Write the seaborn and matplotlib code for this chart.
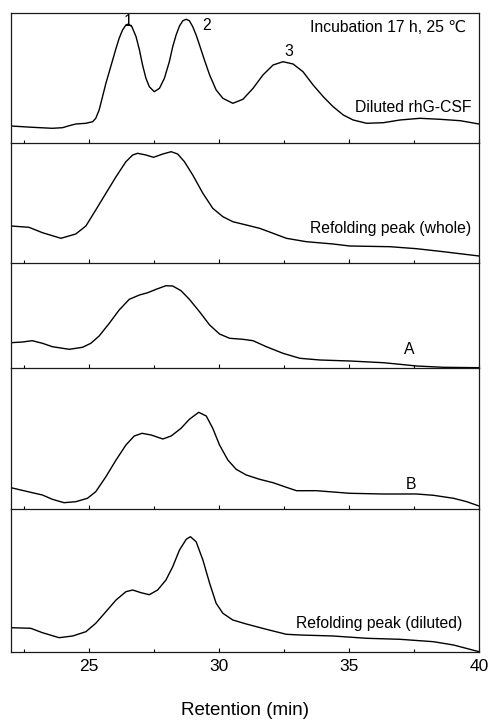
import matplotlib
matplotlib.use("Agg")
import matplotlib.pyplot as plt
import seaborn as sns
from matplotlib.ticker import MultipleLocator

# ---- data (retention in min, signal in arbitrary units) ----
x1 = [22.0, 22.82, 23.59, 23.98, 24.24, 24.49, 24.88, 25.14, 25.26, 25.39, 25.52, 25.65, 25.78, 25.91, 26.04, 26.16,
      26.29, 26.42, 26.52, 26.65, 26.81, 26.94, 27.06, 27.19, 27.32, 27.51, 27.71, 27.90, 28.09, 28.22, 28.35, 28.48,
      28.61, 28.74, 28.86, 28.99, 29.12, 29.25, 29.44, 29.64, 29.89, 30.15, 30.53, 30.92, 31.31, 31.69, 32.08, 32.46,
      32.85, 33.23, 33.62, 34.01, 34.39, 34.78, 35.16, 35.68, 36.32, 36.96, 37.73, 38.50, 39.28, 40.0]
y1 = [16.7, 15.4, 14.4, 15.0, 17.0, 18.7, 19.4, 21.0, 24.4, 32.7, 46.0, 59.4, 71.0, 82.7, 94.4, 104.4,
      112.7, 117.7, 118.7, 116.0, 106.0, 92.7, 77.7, 64.4, 56.0, 51.0, 54.4, 64.4, 81.0, 96.0, 107.7, 116.7,
      122.0, 123.4, 122.0, 116.0, 107.7, 97.7, 82.7, 67.7, 52.7, 44.4, 39.4, 43.4, 54.4, 67.7, 77.7, 81.0,
      78.7, 71.0, 57.7, 46.0, 36.0, 27.7, 22.7, 19.4, 20.0, 22.7, 24.4, 23.4, 22.0, 18.7]

x2 = [22.0, 22.69, 23.21, 23.92, 24.49, 24.88, 25.26, 25.65, 26.04, 26.42, 26.68, 26.87, 27.19, 27.48, 27.84, 28.16,
      28.41, 28.67, 28.99, 29.38, 29.76, 30.15, 30.53, 31.05, 31.56, 32.08, 32.59, 33.36, 34.39, 35.03, 36.58, 37.60,
      38.63, 40.0]
y2 = [36.7, 35.4, 30.0, 24.4, 28.7, 36.7, 52.7, 69.4, 86.0, 101.0, 107.7, 109.4, 107.7, 105.4, 108.7, 111.0,
      108.7, 101.0, 87.7, 69.4, 54.4, 46.0, 41.0, 37.7, 34.4, 29.4, 24.4, 21.0, 18.7, 16.7, 16.0, 14.0,
      11.0, 6.7]

x3 = [22.0, 22.44, 22.82, 23.21, 23.59, 24.24, 24.75, 25.07, 25.39, 25.78, 26.16, 26.55, 26.94, 27.26, 27.58, 27.96,
      28.22, 28.54, 28.86, 29.25, 29.64, 30.02, 30.41, 30.92, 31.31, 31.82, 32.46, 33.11, 33.88, 35.03, 36.32, 36.96,
      37.60, 38.63, 40.0]
y3 = [25.0, 25.7, 27.0, 24.4, 21.0, 18.4, 20.4, 24.4, 31.7, 44.4, 57.7, 68.4, 72.7, 75.0, 78.4, 82.0,
      81.7, 77.0, 68.4, 56.0, 42.7, 33.7, 29.4, 28.4, 27.0, 21.0, 14.4, 9.4, 7.7, 6.7, 5.0, 3.4,
      1.7, 0.4, 0.0]

x4 = [22.0, 22.82, 23.21, 23.59, 24.04, 24.49, 24.94, 25.26, 25.65, 26.04, 26.42, 26.74, 27.04, 27.39, 27.84, 28.16,
      28.54, 28.86, 29.22, 29.51, 29.76, 30.02, 30.34, 30.66, 31.05, 31.56, 32.08, 32.59, 32.98, 33.75, 34.39, 35.03,
      36.32, 37.60, 38.25, 39.02, 39.53, 40.0]
y4 = [21.3, 16.3, 14.0, 9.7, 6.3, 7.3, 10.7, 17.3, 32.3, 49.0, 64.0, 73.0, 75.7, 74.0, 70.0, 73.0,
      80.7, 89.7, 96.7, 93.0, 80.7, 64.0, 49.0, 39.7, 34.0, 29.7, 26.3, 21.7, 18.3, 18.3, 17.0, 15.7,
      15.0, 15.0, 13.7, 10.7, 7.3, 3.0]

x5 = [22.0, 22.76, 23.21, 23.85, 24.37, 24.88, 25.26, 25.65, 26.04, 26.42, 26.68, 27.0, 27.32, 27.64, 27.96, 28.22,
      28.48, 28.74, 28.90, 29.12, 29.38, 29.64, 29.89, 30.15, 30.53, 31.05, 31.82, 32.59, 33.11, 34.39, 35.68, 36.96,
      38.25, 39.02, 40.0]
y5 = [24.3, 23.7, 19.3, 14.3, 16.0, 20.3, 28.7, 40.3, 52.0, 60.3, 62.0, 59.3, 57.3, 62.0, 72.0, 85.3,
      102.0, 112.7, 115.3, 110.3, 92.0, 68.7, 48.7, 38.7, 32.0, 28.0, 22.7, 17.7, 17.0, 16.0, 13.7, 12.7,
      10.3, 7.0, 0.3]

series_x = [x1, x2, x3, x4, x5]
series_y = [y1, y2, y3, y4, y5]
panel_labels = ["Diluted rhG-CSF", "Refolding peak (whole)", "A", "B", "Refolding peak (diluted)"]
peak_numbers = ["1", "2", "3"]
peak_positions = [26.5, 29.52, 32.7]
peak_heights = [120.7, 117.7, 91.7]
condition_text = "Incubation 17 h, 25 \u2103"
x_ticks = [25, 30, 35, 40]
x_label = "Retention (min)"

# ---- layout ----
sns.set_style("white")
plt.rcParams["font.family"] = ["Liberation Sans", "DejaVu Sans"]

fig = plt.figure(figsize=(4.88, 7.2), dpi=100)
W, H = 488.0, 720.0
left_px, right_px = 11.0, 479.0
bounds_px = [(13.0, 142.7), (142.7, 262.7), (262.7, 367.7), (367.7, 509.0), (509.0, 652.0)]

# label placement in axes fraction (x, y, ha)
label_pos = [(0.983, 0.275, "right"), (0.983, 0.289, "right"), (0.850, 0.169, "center"),
             (0.855, 0.170, "center"), (0.964, 0.196, "right")]

TXT = 11.3
axes = []
for i, (top, bot) in enumerate(bounds_px):
    ax = fig.add_axes([left_px / W, 1 - bot / H, (right_px - left_px) / W, (bot - top) / H])
    ax.patch.set_visible(False)
    axes.append(ax)
    sns.lineplot(x=series_x[i], y=series_y[i], ax=ax, color="black", linewidth=1.0, sort=False)
    ax.set_xlim(22, 40)
    ax.set_ylim(0, bot - top)
    ax.set_yticks([])
    ax.set_xticks(x_ticks)
    ax.xaxis.set_minor_locator(MultipleLocator(2.5))
    ax.tick_params(axis="x", which="major", direction="in", length=3.2, width=0.8, top=False, bottom=True, color="black")
    ax.tick_params(axis="x", which="minor", direction="in", length=2.2, width=0.8, top=False, bottom=True, color="black")
    ax.set_xlabel("")
    ax.set_ylabel("")
    for sname, sp in ax.spines.items():
        sp.set_visible(True)
        sp.set_color("#1a1a1a")
        sp.set_linewidth(0.9)
        sp.set_zorder(5)
    if i > 0:
        ax.spines["top"].set_visible(False)
    if i < 4:
        ax.tick_params(axis="x", labelbottom=False)
    else:
        ax.tick_params(axis="x", labelsize=12.5, pad=5, labelcolor="black")
        ax.set_xlabel(x_label, fontsize=13.5, labelpad=20, color="black")
    lx, ly, ha = label_pos[i]
    ax.text(lx, ly, panel_labels[i], transform=ax.transAxes, ha=ha, va="center", fontsize=TXT, color="black")

# peak numbers and incubation text in top panel
for lab, px, ph in zip(peak_numbers, peak_positions, peak_heights):
    axes[0].text(px, ph, lab, ha="center", va="center", fontsize=TXT, color="black")
axes[0].text(0.972, 0.892, condition_text, transform=axes[0].transAxes, ha="right", va="center",
             fontsize=TXT, color="black", family=["Liberation Sans", "DejaVu Sans"])

fig.savefig("out.png", dpi=100)
